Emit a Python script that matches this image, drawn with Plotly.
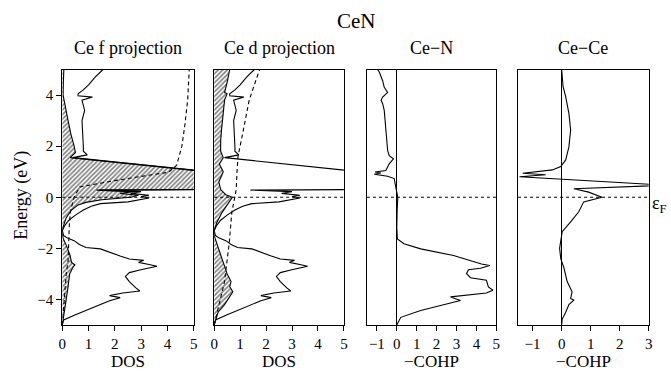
import plotly.graph_objects as go

# ---------------- data ----------------
# Total DOS (same curve in both projection panels)
E_tot = [-5.0, -4.8, -4.6, -4.4, -4.2, -4.05, -3.93, -3.85, -3.75, -3.67, -3.55, -3.3, -3.1, -2.95,
         -2.85, -2.78, -2.7, -2.63, -2.55, -2.47, -2.42, -2.3, -2.1, -2.02, -1.97, -1.85, -1.7, -1.6,
         -1.5, -1.3, -1.1, -0.9, -0.7, -0.5, -0.35, -0.25, -0.18, -0.1, -0.03, 0.03, 0.08, 0.15, 0.22,
         0.28, 0.33, 0.6, 0.85, 1.0, 1.55, 1.66, 1.8, 2.0, 2.5, 3.0, 3.4, 3.6, 3.8, 3.92, 3.97, 4.05,
         4.2, 4.4, 4.7, 5.0]
dos_tot = [0.0, 0.05, 0.5, 1.0, 1.45, 1.8, 2.2, 1.8, 2.3, 2.95, 2.8, 2.55, 2.4, 2.55,
           2.95, 3.3, 3.6, 3.3, 2.9, 3.1, 2.55, 2.2, 1.6, 1.45, 0.9, 0.65, 0.45, 0.2,
           0.05, 0.0, 0.1, 0.25, 0.5, 0.8, 1.1, 1.45, 2.5, 3.0, 3.3, 3.0, 3.3, 2.6, 3.0,
           1.4, 12.0, 15.0, 10.0, 5.6, 0.4, 0.95, 0.8, 0.8, 0.78, 0.75, 0.85, 0.8, 0.75, 1.15, 0.6, 0.6,
           0.8, 1.0, 1.25, 1.55]

# Ce f projection (hatched)
E_f = [-5.0, -4.6, -4.0, -3.5, -3.0, -2.75, -2.65, -2.55, -2.3, -2.0, -1.8, -1.6, -1.4, -1.2,
       -0.8, -0.5, -0.3, -0.2, -0.1, 0.0, 0.08, 0.15, 0.22, 0.28, 0.33, 0.6, 0.85, 1.0, 1.55,
       1.75, 2.0, 2.5, 3.0, 3.5, 4.0, 4.5, 5.0]
dos_f = [0.0, 0.05, 0.15, 0.22, 0.28, 0.4, 0.48, 0.35, 0.3, 0.2, 0.1, 0.03, 0.0, 0.02,
         0.15, 0.35, 0.6, 0.9, 1.5, 2.6, 2.9, 2.2, 2.7, 1.3, 10.0, 14.0, 9.0, 5.5, 0.3,
         0.5, 0.45, 0.32, 0.22, 0.12, 0.03, 0.04, 0.06]

# Integrated Ce f (dashed)
E_fint = [-5.0, -4.0, -3.0, -2.5, -1.5, -1.0, -0.5, 0.0, 0.4, 0.6, 0.8, 0.98, 1.25, 1.6, 2.0, 2.8, 3.8, 5.0]
fint = [0.0, 0.08, 0.15, 0.22, 0.25, 0.27, 0.32, 0.45, 0.66, 1.7, 2.9, 4.05, 4.35, 4.45, 4.55, 4.66, 4.77, 4.83]

# Ce d projection (hatched)
E_d = [-5.0, -4.8, -4.5, -4.2, -3.9, -3.7, -3.5, -3.3, -3.0, -2.7, -2.4, -2.0, -1.7, -1.5,
       -1.3, -1.0, -0.6, -0.3, -0.1, 0.0, 0.1, 0.3, 0.6, 1.0, 1.3, 1.55, 1.8, 2.2, 2.6, 3.0,
       3.4, 3.8, 4.05, 4.1, 4.5, 5.0]
dos_d = [0.0, 0.05, 0.15, 0.4, 0.6, 0.72, 0.6, 0.65, 0.5, 0.4, 0.3, 0.15, 0.05, 0.0,
         0.0, 0.1, 0.3, 0.5, 0.6, 0.7, 0.45, 0.25, 0.18, 0.35, 0.2, 0.35, 0.25, 0.25, 0.28, 0.32,
         0.35, 0.4, 0.5, 0.4, 0.5, 0.6]

# Integrated Ce d (dashed)
E_dint = [-5.0, -4.5, -3.9, -3.3, -2.7, -1.8, -0.6, 0.0, 0.3, 1.0, 1.6, 2.5, 3.8, 5.0]
dint = [0.0, 0.12, 0.28, 0.4, 0.47, 0.58, 0.68, 0.8, 0.85, 0.88, 0.92, 1.1, 1.35, 1.75]

# Ce-N  -COHP
E_cn = [-5.0, -4.7, -4.43, -4.24, -4.04, -3.9, -3.82, -3.75, -3.64, -3.51, -3.25, -3.15, -2.99,
        -2.84, -2.78, -2.67, -2.61, -2.48, -2.28, -2.02, -1.82, -1.63, -1.2, -0.5, 0.0, 0.4, 0.73,
        0.82, 0.9, 0.95, 0.99, 1.05, 1.31, 1.5, 1.63, 1.83, 2.62, 3.4, 3.66, 3.8, 3.92, 4.1, 4.3,
        4.56, 4.9, 5.0]
cohp_cn = [0.0, 0.2, 1.2, 2.2, 3.2, 2.7, 3.6, 4.5, 4.83, 4.6, 4.5, 3.7, 3.5,
           3.6, 4.2, 4.67, 4.25, 3.67, 2.85, 1.2, 0.36, 0.03, 0.0, 0.02, 0.05, -0.05, -0.13,
           -0.46, -1.13, -0.8, -1.09, -0.55, -0.38, -0.17, -0.38, -0.46, -0.55, -0.63, -0.71, -0.79,
           -0.71, -0.46, -0.63, -0.71, -0.88, -0.96]

# Ce-Ce  -COHP
E_cc = [-5.0, -4.77, -4.5, -4.2, -4.03, -3.96, -3.7, -3.3, -2.77, -2.4, -2.0, -1.35, -0.96,
        -0.57, -0.18, 0.0, 0.2, 0.33, 0.47, 0.8, 0.88, 0.94, 1.07, 1.2, 1.46, 1.97, 2.63, 3.28,
        3.93, 4.33, 5.0]
cohp_cc = [0.0, 0.02, 0.14, 0.25, 0.42, 0.31, 0.36, 0.19, 0.08, -0.03, -0.07, 0.02, 0.31,
           0.59, 0.76, 1.39, 0.93, 0.42, 3.6, -1.45, -0.55, -1.34, -0.32, -0.03, 0.14, 0.25, 0.31, 0.25,
           0.14, 0.05, 0.0]

panel_titles = ["Ce f projection", "Ce d projection", "Ce\u2212N", "Ce\u2212Ce"]
x_titles = ["DOS", "DOS", "\u2212COHP", "\u2212COHP"]
x_ranges = [[0, 5], [0, 5], [-1.5, 5], [-1.5, 3]]
x_ticks = [[0, 1, 2, 3, 4, 5], [0, 1, 2, 3, 4, 5], [-1, 0, 1, 2, 3, 4, 5], [-1, 0, 1, 2, 3]]
y_ticks = [-4, -2, 0, 2, 4]
main_title = "CeN"
y_title = "Energy (eV)"

# ---------------- layout helpers ----------------
W, H = 671, 371
FONT = "Liberation Serif"


def fx(px):
    return px / W


def fy(py):
    return 1 - py / H


def font(size):
    return dict(family=FONT, size=size, color="black")


x_dom_px = [(59, 192), (212.7, 344), (367.3, 498.3), (520.3, 652.5)]
y_dom = [fy(325), fy(69.5)]

fig = go.Figure()

hatch = dict(shape="/", fgcolor="black", bgcolor="white", size=3.2, solidity=0.5)
LW = 1.1

# panel 1
fig.add_trace(go.Scatter(x=dos_f, y=E_f, mode="lines", fill="tozerox", fillpattern=hatch,
                         fillcolor="white", line=dict(color="black", width=LW), xaxis="x", yaxis="y"))
fig.add_trace(go.Scatter(x=dos_tot, y=E_tot, mode="lines",
                         line=dict(color="black", width=LW), xaxis="x", yaxis="y"))
fig.add_trace(go.Scatter(x=fint, y=E_fint, mode="lines",
                         line=dict(color="black", width=LW, dash="4px,3px"), xaxis="x", yaxis="y"))
# panel 2
fig.add_trace(go.Scatter(x=dos_d, y=E_d, mode="lines", fill="tozerox", fillpattern=hatch,
                         fillcolor="white", line=dict(color="black", width=LW), xaxis="x2", yaxis="y2"))
fig.add_trace(go.Scatter(x=dos_tot, y=E_tot, mode="lines",
                         line=dict(color="black", width=LW), xaxis="x2", yaxis="y2"))
fig.add_trace(go.Scatter(x=dint, y=E_dint, mode="lines",
                         line=dict(color="black", width=LW, dash="4px,3px"), xaxis="x2", yaxis="y2"))
# panel 3
fig.add_trace(go.Scatter(x=cohp_cn, y=E_cn, mode="lines",
                         line=dict(color="black", width=LW), xaxis="x3", yaxis="y3"))
# panel 4
fig.add_trace(go.Scatter(x=cohp_cc, y=E_cc, mode="lines",
                         line=dict(color="black", width=LW), xaxis="x4", yaxis="y4"))

layout = dict(
    width=W, height=H, margin=dict(l=0, r=0, t=0, b=0),
    paper_bgcolor="white", plot_bgcolor="white", showlegend=False,
    font=font(15),
)

for i in range(4):
    n = "" if i == 0 else str(i + 1)
    layout["xaxis" + n] = dict(
        domain=[fx(x_dom_px[i][0]), fx(x_dom_px[i][1])], anchor="y" + n,
        range=x_ranges[i], tickvals=x_ticks[i], ticks="outside", ticklen=5, tickwidth=1,
        tickcolor="black", showline=True, mirror=True, linecolor="black", linewidth=1,
        showgrid=False, zeroline=(i >= 2), zerolinecolor="black", zerolinewidth=1,
        tickfont=font(15), ticklabelstandoff=0,
    )
    layout["yaxis" + n] = dict(
        domain=y_dom, anchor="x" + n, range=[-5, 5], tickvals=y_ticks,
        ticks="outside" if i == 0 else "", ticklen=5, tickcolor="black",
        showticklabels=(i == 0), tickfont=font(15),
        showline=True, mirror=True, linecolor="black", linewidth=1,
        showgrid=False, zeroline=False,
    )

fig.update_layout(**layout)

# Fermi level (dotted reference line) in each panel
for i in range(4):
    n = "" if i == 0 else str(i + 1)
    fig.add_shape(type="line", xref=("x" + n + " domain"), yref="y" + n, x0=0, x1=1, y0=0, y1=0,
                  line=dict(color="black", width=1, dash="dot"))

annotations = [
    dict(text=main_title, x=fx(357), y=fy(21), xref="paper", yref="paper", showarrow=False,
         font=font(21), xanchor="center", yanchor="middle"),
    dict(text=y_title, x=fx(18), y=fy(195), xref="paper", yref="paper", showarrow=False,
         font=font(18), textangle=-90, xanchor="center", yanchor="middle"),
    dict(text="\u03b5<sub>F</sub>", x=fx(654), y=fy(204), xref="paper", yref="paper", showarrow=False,
         font=font(18), xanchor="left", yanchor="middle"),
]
for i in range(4):
    cx = (x_dom_px[i][0] + x_dom_px[i][1]) / 2
    annotations.append(dict(text=panel_titles[i], x=fx(cx), y=fy(48), xref="paper", yref="paper",
                            showarrow=False, font=font(18), xanchor="center", yanchor="middle"))
    annotations.append(dict(text=x_titles[i], x=fx(cx), y=fy(361), xref="paper", yref="paper",
                            showarrow=False, font=font(17), xanchor="center", yanchor="middle"))
fig.update_layout(annotations=annotations)

fig.write_html("out.html")
